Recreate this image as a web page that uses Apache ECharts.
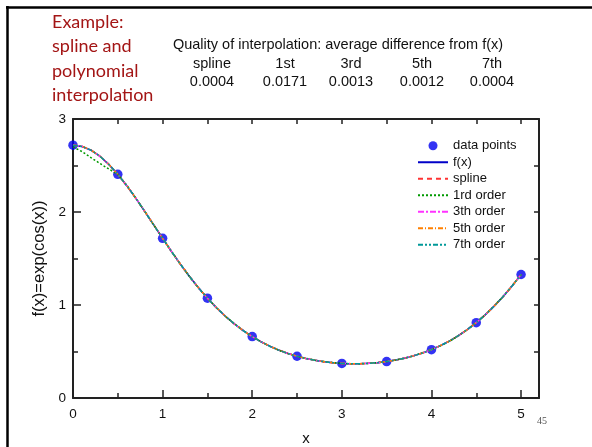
<!DOCTYPE html>
<html>
<head>
<meta charset="utf-8">
<script src="https://cdn.jsdelivr.net/npm/echarts@6/dist/echarts.min.js"></script>
<style>
html,body{margin:0;padding:0;background:#fff;}
#chart{width:592px;height:447px;}
</style>
</head>
<body>
<div id="chart"></div>
<script>
// ---- data ----
var xs = [0.0,0.1,0.2,0.3,0.4,0.5,0.6,0.7,0.8,0.9,1.0,1.1,1.2,1.3,1.4,1.5,1.6,1.7,1.8,1.9,2.0,2.1,2.2,2.3,2.4,2.5,2.6,2.7,2.8,2.9,3.0,3.1,3.2,3.3,3.4,3.5,3.6,3.7,3.8,3.9,4.0,4.1,4.2,4.3,4.4,4.5,4.6,4.7,4.8,4.9,5.0];
var fx = [2.718,2.705,2.665,2.600,2.512,2.405,2.283,2.149,2.007,1.862,1.717,1.574,1.437,1.307,1.185,1.073,0.971,0.879,0.797,0.724,0.660,0.604,0.555,0.514,0.478,0.449,0.425,0.405,0.390,0.379,0.372,0.368,0.369,0.373,0.380,0.392,0.408,0.428,0.453,0.484,0.520,0.563,0.612,0.670,0.736,0.810,0.894,0.988,1.091,1.205,1.328];
var splineY = [2.718,2.707,2.667,2.601,2.513,2.405,2.282,2.148,2.006,1.861,1.717,1.575,1.438,1.308,1.186,1.073,0.970,0.878,0.796,0.724,0.660,0.604,0.556,0.515,0.479,0.449,0.425,0.405,0.390,0.379,0.372,0.369,0.369,0.373,0.381,0.392,0.408,0.428,0.453,0.484,0.520,0.563,0.613,0.670,0.736,0.810,0.894,0.987,1.090,1.204,1.328];
var order1Y = [2.700,2.650,2.585,2.522,2.462,2.405,2.288,2.152,2.009,1.863,1.717,1.573,1.435,1.305,1.184,1.073,0.972,0.881,0.799,0.726,0.660,0.603,0.554,0.512,0.477,0.449,0.426,0.407,0.392,0.381,0.372,0.367,0.367,0.372,0.380,0.392,0.409,0.430,0.455,0.486,0.520,0.561,0.610,0.667,0.734,0.810,0.896,0.991,1.094,1.207,1.328];
var order3Y = [2.719,2.704,2.664,2.599,2.511,2.405,2.284,2.150,2.008,1.862,1.717,1.574,1.436,1.306,1.185,1.073,0.971,0.880,0.797,0.724,0.660,0.604,0.555,0.514,0.478,0.449,0.425,0.405,0.389,0.378,0.372,0.368,0.368,0.373,0.380,0.392,0.408,0.429,0.454,0.484,0.520,0.563,0.612,0.669,0.735,0.810,0.895,0.989,1.092,1.205,1.328];
var order5Y = [2.718,2.706,2.666,2.600,2.512,2.405,2.283,2.149,2.007,1.862,1.717,1.574,1.437,1.307,1.185,1.073,0.971,0.879,0.797,0.724,0.660,0.604,0.555,0.514,0.478,0.449,0.425,0.405,0.390,0.379,0.372,0.368,0.369,0.373,0.380,0.392,0.408,0.428,0.453,0.484,0.520,0.563,0.612,0.670,0.736,0.810,0.894,0.988,1.091,1.205,1.328];
var order7Y = [2.718,2.705,2.665,2.600,2.512,2.405,2.283,2.149,2.007,1.862,1.717,1.574,1.437,1.307,1.185,1.073,0.971,0.879,0.797,0.724,0.660,0.604,0.555,0.514,0.478,0.449,0.425,0.405,0.390,0.379,0.372,0.368,0.369,0.373,0.380,0.392,0.408,0.428,0.453,0.484,0.520,0.563,0.612,0.670,0.736,0.810,0.894,0.988,1.091,1.205,1.328];
var pointX = [0,0.5,1,1.5,2,2.5,3,3.5,4,4.5,5];
var pointY = [2.718,2.405,1.717,1.073,0.660,0.449,0.372,0.392,0.520,0.810,1.328];
var xTickLabels = [0,1,2,3,4,5];
var yTickLabels = [0,1,2,3];
var methods = ['spline','1st','3rd','5th','7th'];
var quality = ['0.0004','0.0171','0.0013','0.0012','0.0004'];
var titleLines = ['Example:','spline and','polynomial','interpolation'];
var tableTitle = 'Quality of interpolation: average difference from f(x)';
var pageNum = '45';

function pairs(a, b) { return a.map(function (v, i) { return [v, b[i]]; }); }

var chart = echarts.init(document.getElementById('chart'), null, {renderer: 'canvas'});
var FONT = '"Liberation Sans", Arial, sans-serif';
var AX = '#222';

var colX = [212, 285, 351, 422, 492];
var graphics = [
  {type:'line', shape:{x1:6, y1:7.5, x2:592, y2:7.5}, style:{stroke:'#000', lineWidth:2.5}, silent:true},
  {type:'line', shape:{x1:7.5, y1:6, x2:7.5, y2:447}, style:{stroke:'#000', lineWidth:2.5}, silent:true},
  {type:'text', left:52, top:9.5, style:{text:titleLines.join('\n'), fill:'#a31515', font:'18px "Comic Sans MS", Lato, sans-serif', lineHeight:24.5}},
  {type:'text', x:338, y:45, style:{text:tableTitle, fill:'#111', font:'14.5px ' + FONT, align:'center', verticalAlign:'middle'}},
  {type:'text', x:542, y:421, style:{text:pageNum, fill:'#555', font:'10px "Liberation Serif", serif', align:'center', verticalAlign:'middle'}}
];
methods.forEach(function (m, i) {
  graphics.push({type:'text', x:colX[i], y:63.5, style:{text:m, fill:'#111', font:'14.5px ' + FONT, align:'center', verticalAlign:'middle'}});
  graphics.push({type:'text', x:colX[i], y:82, style:{text:quality[i], fill:'#111', font:'14.5px ' + FONT, align:'center', verticalAlign:'middle'}});
});

function lineSeries(name, data, color, type, z) {
  return {
    name: name, type: 'line', data: pairs(xs, data), symbol: 'none', smooth: false,
    xAxisIndex: 0, yAxisIndex: 0, z: z,
    lineStyle: {color: color, width: 1.5, type: type},
    itemStyle: {color: color}
  };
}
function legendLine(name) {
  return {name: name, itemStyle: {opacity: 0}};
}

var option = {
  backgroundColor: '#fff',
  animation: false,
  grid: {left: 73, right: 53, top: 119, bottom: 49, containLabel: false, outerBoundsMode: 'none'},
  legend: {
    orient: 'vertical', left: 417, top: 139, padding: 0,
    itemWidth: 30, itemHeight: 9, itemGap: 3,
    textStyle: {fontSize: 13, fontFamily: FONT, color: '#111', lineHeight: 13.5},
    data: [
      {name: 'data points', icon: 'circle'},
      legendLine('f(x)'),
      legendLine('spline'),
      legendLine('1rd order'),
      legendLine('3th order'),
      legendLine('5th order'),
      legendLine('7th order')
    ]
  },
  xAxis: [
    {
      type: 'value', position: 'bottom', min: 0, max: 5.2, interval: 1,
      name: 'x', nameLocation: 'middle', nameGap: 33,
      nameTextStyle: {fontSize: 15, fontFamily: FONT, color: '#111'},
      axisLine: {show: true, onZero: false, lineStyle: {color: AX, width: 2}},
      axisTick: {show: true, inside: true, length: 8, lineStyle: {color: AX, width: 1.5}, customValues: xTickLabels},
      axisLabel: {show: true, fontSize: 13.5, fontFamily: FONT, color: '#111', margin: 9, customValues: xTickLabels},
      splitLine: {show: false}
    },
    {
      type: 'value', position: 'bottom', min: 0, max: 5.2, interval: 0.5,
      axisLine: {show: false, onZero: false},
      axisTick: {show: true, inside: true, length: 5, lineStyle: {color: AX, width: 1.5}, customValues: [0.5,1.5,2.5,3.5,4.5]},
      axisLabel: {show: false},
      splitLine: {show: false}
    },
    {
      type: 'value', position: 'top', min: 0, max: 5.2, interval: 0.5,
      axisLine: {show: true, onZero: false, lineStyle: {color: AX, width: 2}},
      axisTick: {show: true, inside: true, length: 5, lineStyle: {color: AX, width: 1.5}, customValues: [0.5,1,1.5,2,2.5,3,3.5,4,4.5,5]},
      axisLabel: {show: false},
      splitLine: {show: false}
    }
  ],
  yAxis: [
    {
      type: 'value', position: 'left', min: 0, max: 3, interval: 1,
      name: 'f(x)=exp(cos(x))', nameLocation: 'middle', nameGap: 20, nameRotate: 90,
      nameTextStyle: {fontSize: 16.5, fontFamily: FONT, color: '#111'},
      axisLine: {show: true, onZero: false, lineStyle: {color: AX, width: 2}},
      axisTick: {show: true, inside: true, length: 8, lineStyle: {color: AX, width: 1.5}},
      minorTick: {show: true, splitNumber: 2, length: 5, lineStyle: {color: AX, width: 1.5}},
      axisLabel: {show: true, fontSize: 13.5, fontFamily: FONT, color: '#111', margin: 7},
      splitLine: {show: false}
    },
    {
      type: 'value', position: 'right', min: 0, max: 3, interval: 0.5,
      axisLine: {show: true, onZero: false, lineStyle: {color: AX, width: 2}},
      axisTick: {show: true, inside: true, length: 5, lineStyle: {color: AX, width: 1.5}},
      axisLabel: {show: false},
      splitLine: {show: false}
    }
  ],
  series: [
    {
      name: 'data points', type: 'scatter', data: pairs(pointX, pointY),
      symbol: 'circle', symbolSize: 9.5, z: 1,
      xAxisIndex: 0, yAxisIndex: 0,
      itemStyle: {color: '#0000f0'}
    },
    lineSeries('f(x)', fx, '#0000c8', 'solid', 2),
    lineSeries('spline', splineY, '#ff3333', [5, 4], 3),
    lineSeries('1rd order', order1Y, '#009900', [2, 2], 4),
    lineSeries('3th order', order3Y, '#ff33ff', [6, 2, 2, 2], 5),
    lineSeries('5th order', order5Y, '#ff8000', [5, 2, 1, 2], 6),
    lineSeries('7th order', order7Y, '#009999', [5, 2, 2, 2, 2, 2], 7)
  ],
  graphic: graphics
};
chart.setOption(option);
</script>
</body>
</html>
